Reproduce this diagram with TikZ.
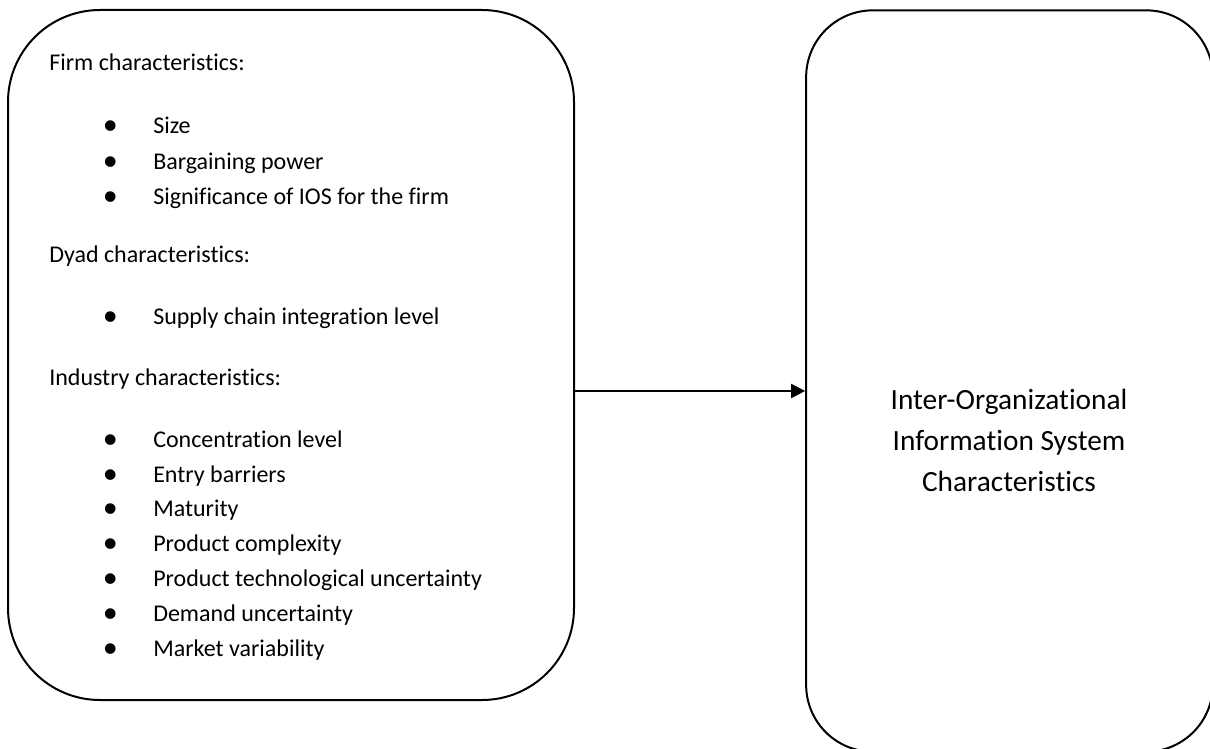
\documentclass[tikz,border=0pt]{standalone}
\usepackage{fontspec}
\setmainfont{Carlito}[Ligatures=NoCommon]
\usetikzlibrary{arrows.meta, calc}

\begin{document}
\begin{tikzpicture}[
    x=0.75pt, y=-0.75pt,
    panel/.style={rectangle, draw, line width=1.5pt, inner sep=0pt},
    heading/.style={anchor=base west, inner sep=0pt, font=\fontsize{18pt}{21pt}\selectfont},
    entry/.style={heading, execute at begin node={\llap{\makebox[0pt]{\raisebox{-0.8pt}{\scalebox{1.25}{\textbullet}}}\hspace{32.25pt}}}},
    arrow/.style={-{Triangle[length=10.5pt, width=10.5pt]}, line width=1.5pt}
]
\useasboundingbox (0,0) rectangle (1210,749);

% Left box - factors
\node [panel, minimum width=424.5pt, minimum height=517.5pt, rounded corners=69pt] (factors) at (291,355) {};

% Right box - IOS characteristics
\node [panel, minimum width=305pt, minimum height=556pt, rounded corners=50pt] (ios) at (1009.5,381) {};
\node [align=center, font=\fontsize{22pt}{30.75pt}\selectfont] (iostitle) at (1009,440) {Inter-Organizational\\Information System\\Characteristics};

% Firm characteristics
\node [heading] (firm) at (49,71) {Firm characteristics:};
\node [entry] (size) at (153,133) {Size};
\node [entry] (power) at (153,169) {Bargaining power};
\node [entry] (signif) at (153,204) {Significance of IOS for the firm};

% Dyad characteristics
\node [heading] (dyad) at (49,262) {Dyad characteristics:};
\node [entry] (supply) at (153,324) {Supply chain integration level};

% Industry characteristics
\node [heading] (industry) at (49,385) {Industry characteristics:};
\node [entry] (concentr) at (153,447) {Concentration level};
\node [entry] (barriers) at (153,482) {Entry barriers};
\node [entry] (maturity) at (153,516) {Maturity};
\node [entry] (complex) at (153,551) {Product complexity};
\node [entry] (techunc) at (153,586) {Product technological uncertainty};
\node [entry] (demand) at (153,621) {Demand uncertainty};
\node [entry] (market) at (153,656) {Market variability};

% Arrow
\coordinate (out) at ($(factors.north east)!0.552!(factors.south east)$);
\draw [arrow] (out) -- (out -| ios.west);

\end{tikzpicture}
\end{document}
